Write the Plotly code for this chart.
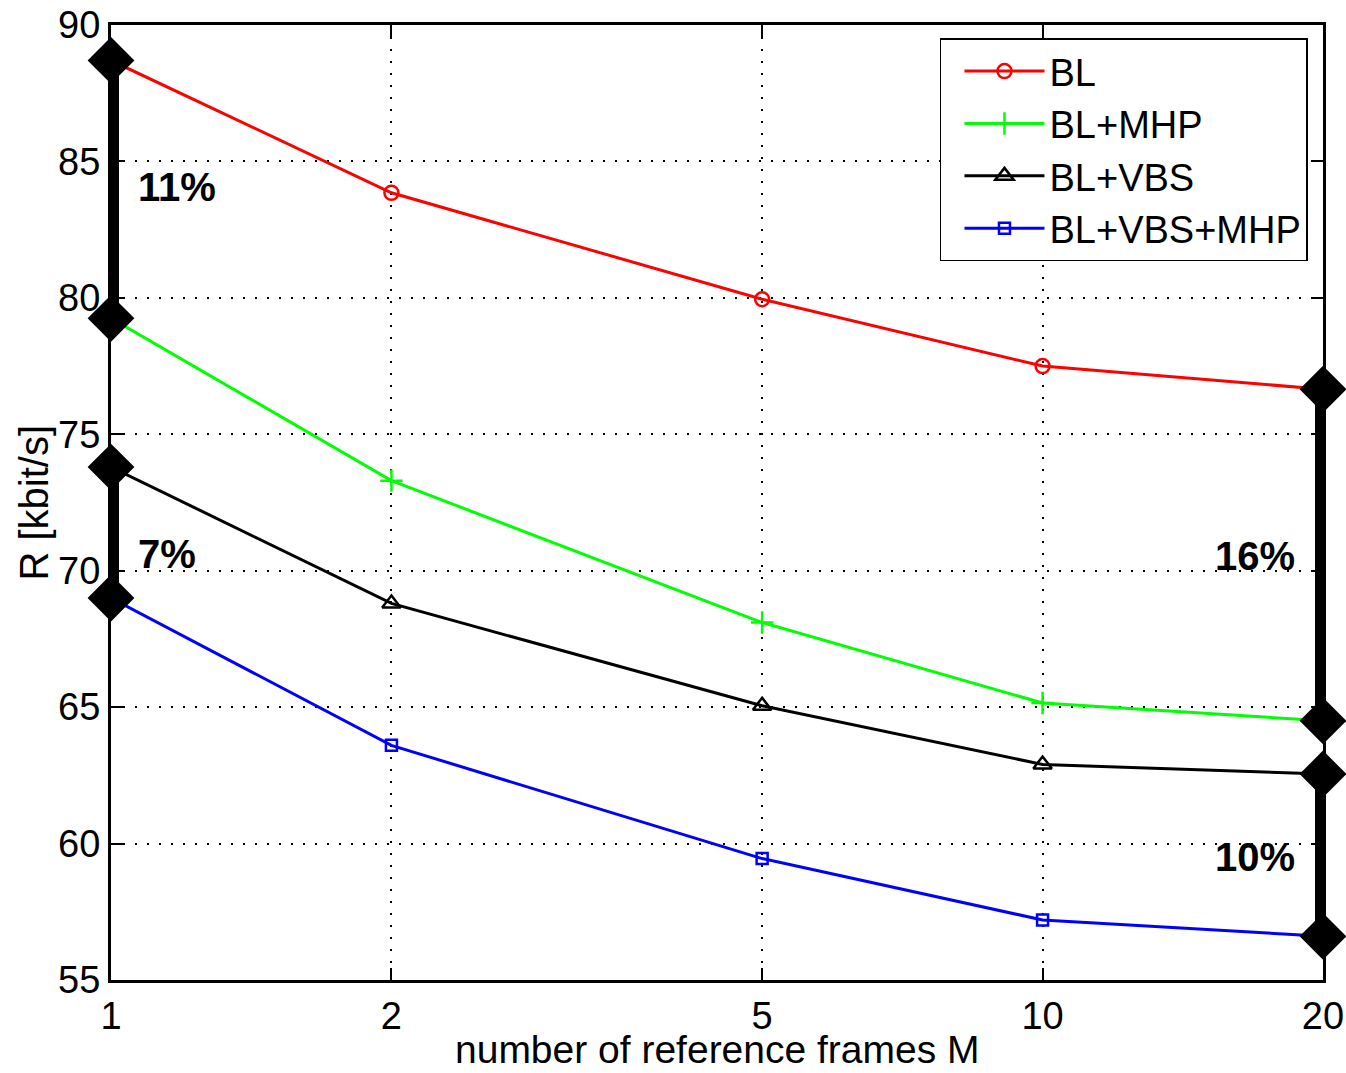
import plotly.graph_objects as go
import numpy as np

M = [1, 2, 5, 10, 20]
series_names = ["BL", "BL+MHP", "BL+VBS", "BL+VBS+MHP"]
bl = [88.7, 83.85, 79.95, 77.5, 76.65]
bl_mhp = [79.25, 73.3, 68.1, 65.15, 64.5]
bl_vbs = [73.8, 68.8, 65.05, 62.9, 62.55]
bl_vbs_mhp = [69.0, 63.6, 59.45, 57.2, 56.6]
colors = ["#ff0000", "#00ff00", "#000000", "#0000ff"]
symbols = ["circle-open", "cross-thin-open", "triangle-up-open", "square-open"]
marker_sizes = [14, 16, 16, 11]

# gain bars (x position, low, high, label)
gain_x = [1, 1, 20, 20]
gain_lo = [bl_mhp[0], bl_vbs_mhp[0], bl_mhp[4], bl_vbs_mhp[4]]
gain_hi = [bl[0], bl_vbs[0], bl[4], bl_vbs[4]]
gain_labels = ["11%", "7%", "16%", "10%"]
label_pos_x = [1.064, 1.064, 18.76, 18.76]
label_pos_y = [84.06, 70.6, 70.55, 59.5]
label_anchor = ["left", "left", "right", "right"]

x_title = "number of reference frames M"
y_title = "R [kbit/s]"

FONT = "Arial, Liberation Sans, Helvetica, sans-serif"
fig = go.Figure()

for name, ys, c, s, ms in zip(series_names, [bl, bl_mhp, bl_vbs, bl_vbs_mhp], colors, symbols, marker_sizes):
    fig.add_trace(go.Scatter(
        x=M, y=ys, name=name, mode="lines+markers",
        line=dict(color=c, width=3),
        marker=dict(symbol=s, size=ms, color=c, line=dict(color=c, width=2.5)),
        cliponaxis=False,
    ))

for gx, lo, hi in zip(gain_x, gain_lo, gain_hi):
    fig.add_trace(go.Scatter(
        x=[gx, gx], y=[lo, hi], mode="lines+markers", showlegend=False,
        line=dict(color="black", width=16),
        marker=dict(symbol="diamond", size=36, color="black"),
        cliponaxis=False, hoverinfo="skip",
    ))

for lx, ly, txt, anc in zip(label_pos_x, label_pos_y, gain_labels, label_anchor):
    fig.add_annotation(x=np.log10(lx), y=ly, text="<b>%s</b>" % txt, showarrow=False,
                       xanchor=anc, yanchor="middle",
                       font=dict(family=FONT, size=40, color="black"))

# axis titles
fig.add_annotation(xref="paper", yref="paper", x=0.5, y=0, yshift=-69,
                   xanchor="center", yanchor="middle", showarrow=False, text=x_title,
                   font=dict(family=FONT, size=39, color="black"))
fig.add_annotation(xref="paper", yref="paper", x=0, y=0.5, xshift=-78,
                   xanchor="center", yanchor="middle", showarrow=False, text=y_title,
                   textangle=-90, font=dict(family=FONT, size=40, color="black"))

axis_common = dict(
    showline=True, linecolor="black", linewidth=3, mirror="ticks",
    ticks="inside", ticklen=12, tickwidth=2, tickcolor="black",
    showgrid=True, gridcolor="black", gridwidth=1.5, griddash="2px,10px",
    zeroline=False, automargin=False, ticklabeloverflow="allow",
    tickfont=dict(family=FONT, size=38, color="black"),
)

fig.update_xaxes(type="log", range=[0, np.log10(20)], tickvals=M,
                 ticktext=[str(m) for m in M], **axis_common)
fig.update_yaxes(range=[55, 90], tickvals=[55, 60, 65, 70, 75, 80, 85, 90],
                 **axis_common)

fig.update_layout(
    width=1346, height=1073,
    margin=dict(l=111, r=23, t=25, b=93),
    plot_bgcolor="white", paper_bgcolor="white",
    font=dict(family=FONT, size=40, color="black"),
    legend=dict(x=0.9876, y=0.986, xanchor="right", yanchor="top",
                bgcolor="white", bordercolor="black", borderwidth=1.5,
                font=dict(family=FONT, size=38, color="black"),
                tracegroupgap=0, itemwidth=80, indentation=18),
    showlegend=True,
)

# remove the default 8px page margin so the figure fills the window exactly
fig.write_html("out.html", config={"displayModeBar": False},
               post_script="document.body.style.margin='0';")
